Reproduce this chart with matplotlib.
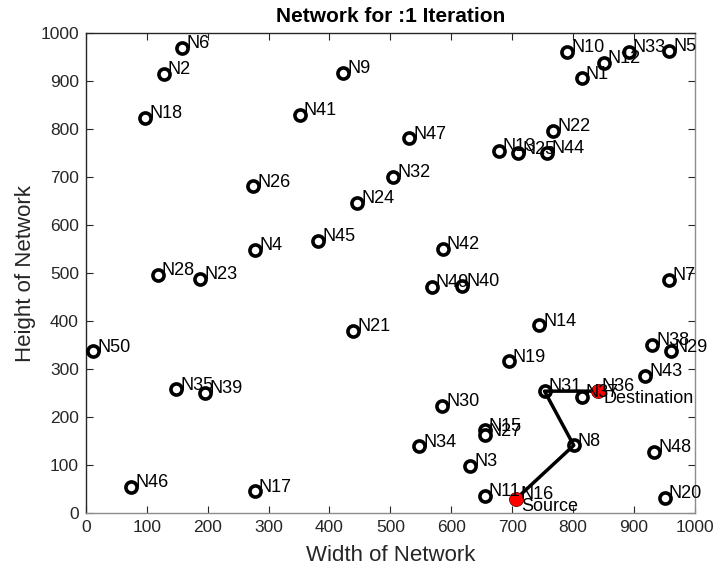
import matplotlib
matplotlib.use('Agg')
import matplotlib.pyplot as plt

plt.rcParams['font.family'] = ['Liberation Sans', 'DejaVu Sans']

# node positions
names = ['N1', 'N2', 'N3', 'N4', 'N5', 'N6', 'N7', 'N8', 'N9', 'N10',
         'N11', 'N12', 'N13', 'N14', 'N15', 'N16', 'N17', 'N18', 'N19', 'N20',
         'N21', 'N22', 'N23', 'N24', 'N25', 'N26', 'N27', 'N28', 'N29', 'N30',
         'N31', 'N32', 'N33', 'N34', 'N35', 'N36', 'N37', 'N38', 'N39', 'N40',
         'N41', 'N42', 'N43', 'N44', 'N45', 'N46', 'N47', 'N48', 'N49', 'N50']
xs = [814, 128, 631, 278, 958, 158, 957, 801, 423, 790,
      655, 850, 678, 744, 655, 706, 277, 97, 694, 950,
      439, 767, 188, 446, 710, 275, 655, 118, 960, 585,
      753, 505, 891, 547, 148, 840, 814, 930, 196, 618,
      351, 586, 918, 757, 381, 74, 531, 933, 568, 12]
ys = [906, 915, 99, 548, 963, 970, 486, 141, 918, 961,
      36, 938, 755, 391, 172, 29, 45, 824, 316, 32,
      380, 796, 488, 647, 750, 681, 162, 497, 337, 224,
      254, 700, 961, 139, 258, 254, 242, 350, 251, 474,
      830, 550, 286, 751, 567, 54, 781, 128, 472, 337]

# route from source to destination
route = ['N16', 'N8', 'N31', 'N36']
source = 'N16'
dest = 'N36'

fig = plt.figure(figsize=(7.15, 5.73), dpi=100)
ax = fig.add_axes([0.120, 0.1047, 0.852, 0.8373])

ax.plot(xs, ys, 'o', ls='none', mfc='white', mec='black', ms=8, mew=2.6, zorder=3)

rx = [xs[names.index(n)] for n in route]
ry = [ys[names.index(n)] for n in route]
ax.plot(rx, ry, '-', color='black', lw=2.5, zorder=4)

for n in (source, dest):
    i = names.index(n)
    ax.plot(xs[i], ys[i], 'o', color='red', ms=9, zorder=5)

for n, x, y in zip(names, xs, ys):
    ax.annotate(n, (x, y), xytext=(3, 3), textcoords='offset points',
                fontsize=13, va='center', ha='left', zorder=6)

i = names.index(source)
ax.annotate('Source', (xs[i], ys[i]), xytext=(4, -5), textcoords='offset points',
            fontsize=13, va='center', ha='left', zorder=6)
i = names.index(dest)
ax.annotate('Destination', (xs[i], ys[i]), xytext=(4, -5), textcoords='offset points',
            fontsize=13, va='center', ha='left', zorder=6)

ax.set_xlim(0, 1000)
ax.set_ylim(0, 1000)
ax.set_xticks(range(0, 1001, 100))
ax.set_yticks(range(0, 1001, 100))
ax.tick_params(direction='in', top=True, right=True, length=5, width=0.8,
               labelsize=12.5, colors='#262626', pad=5)
for side in ('left', 'top'):
    ax.spines[side].set_color('#262626')
for side in ('right', 'bottom'):
    ax.spines[side].set_color('#8c8c8c')
for sp in ax.spines.values():
    sp.set_linewidth(1.0)

ax.set_xlabel('Width of Network', fontsize=16, color='#262626', labelpad=7)
ax.set_ylabel('Height of Network', fontsize=16, color='#262626', labelpad=3)
ax.set_title('Network for :1 Iteration', fontsize=15, fontweight='bold', pad=8)

fig.savefig('out.png', dpi=100)
